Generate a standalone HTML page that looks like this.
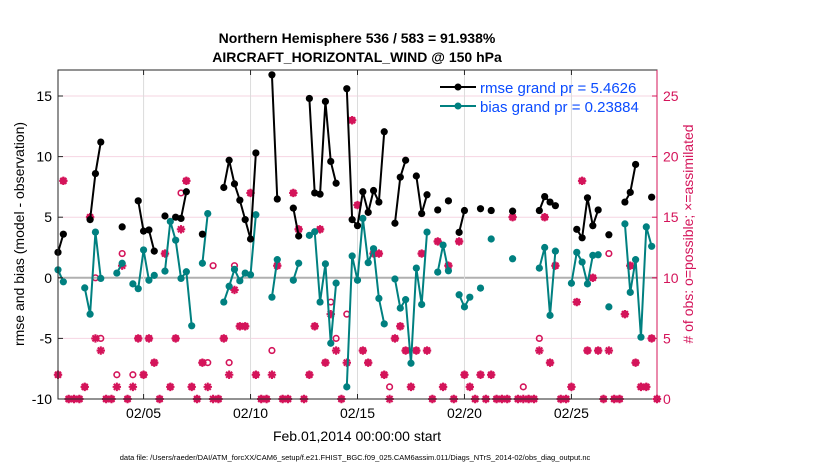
<!DOCTYPE html>
<html><head><meta charset="utf-8"><style>
body{margin:0;background:#fff;}
svg{display:block;font-family:"Liberation Sans",Arial,sans-serif;}
</style></head><body>
<svg id="chart" width="830" height="470" viewBox="0 0 830 470" xmlns="http://www.w3.org/2000/svg">
<text x="357" y="43" text-anchor="middle" font-size="14" font-weight="bold">Northern Hemisphere 536 / 583 = 91.938%</text>
<text x="357" y="62" text-anchor="middle" font-size="14" font-weight="bold">AIRCRAFT_HORIZONTAL_WIND @ 150 hPa</text>
<g id="grid"></g>
<g id="marks"></g>
<rect x="58" y="70" width="599" height="329" fill="none" stroke="#262626" stroke-width="1"/>
<line x1="657" y1="70" x2="657" y2="399" stroke="#d4145a" stroke-width="1"/>
<g id="axes"></g>
<text transform="translate(24,234) rotate(-90)" text-anchor="middle" font-size="14">rmse and bias (model - observation)</text>
<text transform="translate(693,234) rotate(-90)" text-anchor="middle" font-size="14" fill="#d4145a"># of obs: o=possible; ×=assimilated</text>
<text x="357" y="441" text-anchor="middle" font-size="14">Feb.01,2014 00:00:00 start</text>
<text x="355" y="460" text-anchor="middle" font-size="7.5">data file: /Users/raeder/DAI/ATM_forcXX/CAM6_setup/f.e21.FHIST_BGC.f09_025.CAM6assim.011/Diags_NTrS_2014-02/obs_diag_output.nc</text>
<g>
<line x1="440" y1="87" x2="476" y2="87" stroke="#000" stroke-width="2"/><circle cx="458" cy="87" r="3.5" fill="#000"/>
<text x="480" y="93" font-size="15" fill="#0a4bff">rmse grand pr = 5.4626</text>
<line x1="440" y1="106" x2="476" y2="106" stroke="#008080" stroke-width="2"/><circle cx="458" cy="106" r="3.5" fill="#008080"/>
<text x="480" y="112" font-size="15" fill="#0a4bff">bias grand pr = 0.23884</text>
</g>
</svg>
<script>
const N=null;
const rmse=[2.1,3.6,N,N,N,N,4.8,8.6,11.2,N,N,N,4.2,N,N,6.35,3.85,3.95,2.2,N,5.1,N,5.0,4.9,7.1,N,N,3.6,N,N,N,7.45,9.7,7.75,6.4,4.8,3.2,10.3,N,N,16.75,6.5,N,N,5.75,3.45,N,14.8,7.0,6.9,14.55,9.6,7.8,N,15.6,4.8,4.3,7.1,5.4,7.2,6.25,12.05,N,4.5,8.3,9.7,N,8.4,5.3,6.85,N,5.6,N,6.35,N,3.75,5.55,N,N,5.7,N,5.55,N,N,N,5.5,N,N,N,N,5.55,6.7,6.25,5.95,N,N,N,4.0,3.3,6.6,4.3,5.6,N,3.55,N,N,6.25,7.05,9.35,N,N,6.65,N];
const bias=[0.66,-0.33,N,N,N,-0.83,-3.0,3.77,-0.05,N,N,0.39,1.2,N,-0.5,-0.9,2.3,-0.2,0.2,N,0.55,4.65,3.1,-0.05,0.5,-3.96,N,1.2,5.3,N,N,-2.0,-0.7,0.7,-0.25,0.39,0.25,5.2,N,N,-1.6,1.5,N,N,-0.2,1.2,N,3.5,3.8,-2.0,1.15,-5.4,-0.44,N,-9.0,1.8,-0.2,4.9,1.25,2.4,-1.7,-3.8,N,-0.1,-2.5,-1.8,-7.05,0.8,-2.2,3.77,N,0.47,2.7,0.58,N,-1.4,-2.4,-1.6,N,-0.85,N,3.2,N,N,N,1.57,N,N,N,N,0.8,2.5,-3.1,2.2,N,N,-0.45,2.1,1.3,-0.5,1.85,1.9,N,-2.4,N,N,4.45,-1.2,1.5,-4.9,4.2,2.6,N];
const assim=[2,18,0,0,0,1,15,5,4,0,0,1,11,0,1,5,2,5,3,0,12,1,5,14,18,1,0,3,1,0,0,5,2,9,6,6,17,2,0,0,2,11,0,0,17,14,0,2,6,14,3,7,4,0,3,23,16,4,3,12,12,2,0,5,6,4,1,4,12,4,0,13,1,11,0,13,2,1,0,2,0,2,0,0,0,15,0,0,0,0,4,15,3,11,0,0,1,8,18,4,10,4,0,4,0,0,7,11,3,1,1,5,0];
const possible=[2,18,0,0,0,1,15,10,5,0,0,2,12,0,2,5,2,5,3,0,12,1,5,17,18,1,0,3,3,11,0,5,3,11,6,6,17,2,0,0,4,11,0,0,17,14,0,2,6,14,3,8,5,0,7,23,16,4,3,12,12,2,1,5,6,4,1,4,12,4,0,13,1,11,0,13,2,1,0,2,0,2,0,0,0,15,0,1,0,0,5,15,3,11,0,0,1,8,18,4,10,4,0,12,0,0,7,11,3,1,1,5,0];
const dayTicks=[5,10,15,20,25];
const dayLabels=["02/05","02/10","02/15","02/20","02/25"];
const leftTicks=[-10,-5,0,5,10,15];
const rightTicks=[0,5,10,15,20,25];

const X0=58,X1=657,Y0=70,Y1=399;
const PXDAY=(X1-X0)/28;
const xOf=i=>X0+i*0.25*PXDAY;
const xDay=d=>X0+(d-1)*PXDAY;
const yL=v=>399-(v+10)*12.12;
const yR=c=>399-c*12.12;
const NS="http://www.w3.org/2000/svg";
function mk(tag,attrs,parent){const e=document.createElementNS(NS,tag);for(const k in attrs)e.setAttribute(k,attrs[k]);parent.appendChild(e);return e;}
const grid=document.getElementById('grid'),marks=document.getElementById('marks'),axes=document.getElementById('axes');

leftTicks.forEach(v=>{
  const g=mk('line',{x1:X0,x2:X1,y1:yL(v),y2:yL(v),stroke:v===0?'#b0b0b0':'#f6d5e2','stroke-width':v===0?2:1},grid);
  
  
  const t=mk('line',{x1:X0,x2:X0+5,y1:yL(v),y2:yL(v),stroke:'#262626'},axes);
  
  
  const l=mk('text',{x:X0-6,y:yL(v)+5,'text-anchor':'end','font-size':14},axes);
  l.textContent=v;
  
  
});
rightTicks.forEach(c=>{
  const t=mk('line',{x1:X1-5,x2:X1,y1:yR(c),y2:yR(c),stroke:'#d4145a'},axes);
  
  
  const l=mk('text',{x:X1+6,y:yR(c)+5,'font-size':14,fill:'#d4145a'},axes);
  l.textContent=c;
  
  
});
dayTicks.forEach((d,k)=>{
  const g=mk('line',{x1:xDay(d),x2:xDay(d),y1:Y0,y2:Y1,stroke:'#dcdcdc'},grid);
  
  
  const t=mk('line',{x1:xDay(d),x2:xDay(d),y1:Y1-5,y2:Y1,stroke:'#262626'},axes);
  
  
  const t2=mk('line',{x1:xDay(d),x2:xDay(d),y1:Y0,y2:Y0+5,stroke:'#262626'},axes);
  
  
  const l=mk('text',{x:xDay(d),y:418,'text-anchor':'middle','font-size':14},axes);
  l.textContent=dayLabels[k];
  
  
});

function star(cx,cy){
  const s=4.2,d=3;
  const p=mk('path',{d:`M${cx-s},${cy}L${cx+s},${cy}M${cx},${cy-s}L${cx},${cy+s}M${cx-d},${cy-d}L${cx+d},${cy+d}M${cx-d},${cy+d}L${cx+d},${cy-d}`,stroke:'#d4145a','stroke-width':2.1,fill:'none'},marks);
  
  
}
possible.forEach((c,i)=>{
  if(c===null)return;
  const e=mk('circle',{cx:xOf(i),cy:yR(c),r:2.8,fill:'none',stroke:'#d4145a','stroke-width':1.6},marks);
  
  
});
assim.forEach((c,i)=>{if(c!==null)star(xOf(i),yR(c));});

function series(arr,color,name){
  let seg=[];
  const flush=()=>{if(seg.length>1){const p=mk('polyline',{points:seg.join(' '),fill:'none',stroke:color,'stroke-width':2},marks);
    
    }seg=[];};
  arr.forEach((v,i)=>{if(v===null){flush();return;}seg.push(xOf(i)+','+yL(v));});
  flush();
  arr.forEach((v,i)=>{if(v===null)return;
    const c=mk('circle',{cx:xOf(i),cy:yL(v),r:3.6,fill:color},marks);
    
    });
}
series(bias,'#008080','bias');
series(rmse,'#000000','rmse');
</script>
</body></html>
